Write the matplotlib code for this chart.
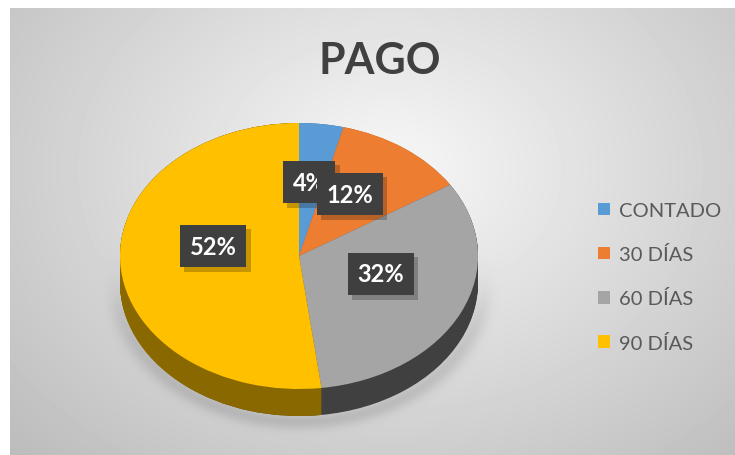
import numpy as np
import matplotlib
matplotlib.use('Agg')
import matplotlib.pyplot as plt
import matplotlib.patheffects as pe
from matplotlib.colors import LinearSegmentedColormap
from matplotlib.patches import Patch

# data
categories = ['CONTADO', '30 DÍAS', '60 DÍAS', '90 DÍAS']
shares = [4, 12, 32, 52]
pct_labels = ['4%', '12%', '32%', '52%']
title = 'PAGO'

top_colors = ['#5b9bd5', '#ed7d31', '#a5a5a5', '#ffc000']
side_colors = ['#3d6e9c', '#a8561c', '#404040', '#8a6800']

plt.rcParams['font.family'] = ['Lato', 'DejaVu Sans']

W, H = 735, 456
fig = plt.figure(figsize=(W / 100, H / 100), dpi=100)
fig.patch.set_facecolor('white')

# background: radial grey gradient in pixel coords
ax_bg = fig.add_axes([0, 0, 1, 1])
ax_bg.set_xlim(0, W)
ax_bg.set_ylim(H, 0)
ax_bg.axis('off')
xx, yy = np.meshgrid(np.arange(10, W), np.arange(9, H))
d = np.sqrt(((xx - 390) / 430.0) ** 2 + ((yy - 170) / 330.0) ** 2)
shade = 0.97 - 0.19 * d
# soft shadow around the bottom of the pie
ds = np.sqrt(((xx - 300) / 183.0) ** 2 + ((yy - 282) / 140.0) ** 2)
w = 1.0 / (1.0 + np.exp(-(yy - 300) / 15.0))
shade -= 0.10 * np.exp(-((ds - 1.0) / 0.06) ** 2) * w
shade = np.clip(shade, 0, 1)
ax_bg.imshow(shade, cmap='gray', vmin=0, vmax=1, extent=(10, W, H, 9),
             aspect='auto', interpolation='bilinear')

ax_bg.text(380, 61, title, ha='center', va='center', fontsize=31,
           fontweight='bold', color='#404040')

# pie axes: ellipse 358 x 266 px plus 27 px thickness
cx, cy, a, b, thick = 299, 257, 179, 133, 27
t = thick / b
ax = fig.add_axes([(cx - a) / W, (H - (cy + b + thick)) / H,
                   2 * a / W, (2 * b + thick) / H])

grad_cmap = LinearSegmentedColormap.from_list('side', ['#b88c00', '#6e5200', '#5e4600'])
grad = np.linspace(0, 1, 256)[None, :]
grad = np.clip(grad * 1.8, 0, 1)

offsets = np.linspace(t, 0, 28)
for off in offsets:
    wedges, _ = ax.pie(shares, colors=side_colors, startangle=90, counterclock=False,
                       center=(0, -off), wedgeprops=dict(linewidth=0))
    im = ax.imshow(grad, cmap=grad_cmap, vmin=0, vmax=1, extent=(-1, 1, -1 - t, 1),
                   aspect='auto', interpolation='bilinear')
    im.set_clip_path(wedges[3])

wedges, _ = ax.pie(shares, colors=top_colors, startangle=90, counterclock=False,
                   wedgeprops=dict(linewidth=0))
ax.set_aspect('auto')
ax.set_xlim(-1, 1)
ax.set_ylim(-1 - t, 1)
ax.axis('off')

# data labels (pie data coords)
label_xy = [(0.056, 0.556), (0.285, 0.466), (0.458, -0.135), (-0.480, 0.075)]
for txt, (lx, ly) in zip(pct_labels, label_xy):
    lab = ax.text(lx, ly, txt, ha='center', va='center', fontsize=17,
                  fontweight='bold', color='white',
                  bbox=dict(boxstyle='square,pad=0.42', fc='#3f3f3f', ec='none', lw=0))
    lab.get_bbox_patch().set_path_effects(
        [pe.SimplePatchShadow(offset=(3, -3), shadow_rgbFace='black', alpha=0.22),
         pe.Normal()])

handles = [Patch(facecolor=c, edgecolor='none') for c in top_colors]
leg = fig.legend(handles, categories, loc='upper left',
                 bbox_to_anchor=(598 / W, 1 - 203 / H), bbox_transform=fig.transFigure,
                 frameon=False, fontsize=14.5, handlelength=0.6, handleheight=0.6,
                 handletextpad=0.42, labelspacing=1.3, borderpad=0, borderaxespad=0)
for txt in leg.get_texts():
    txt.set_color('#595959')

fig.savefig('out.png', dpi=100)
